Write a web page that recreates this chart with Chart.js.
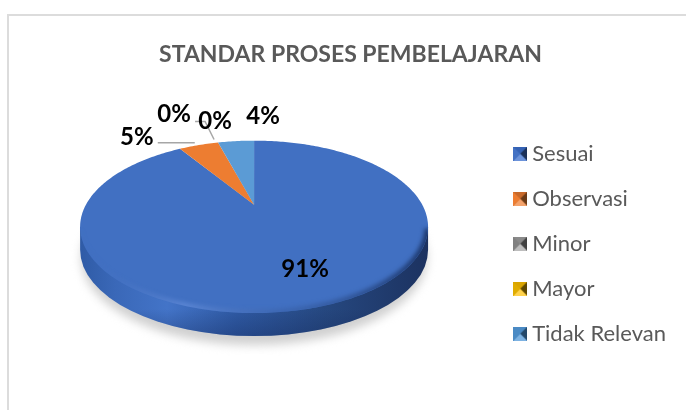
<!DOCTYPE html>
<html>
<head>
<meta charset="utf-8">
<script src="https://cdn.jsdelivr.net/npm/chart.js@4"></script>
<style>
html,body{margin:0;padding:0;background:#fff;overflow:hidden}
#wrap{position:relative;width:686px;height:410px}
#frame{position:absolute;left:7px;top:14px;right:0;bottom:0;border-left:2px solid #dcdcdc;border-top:2px solid #dcdcdc}
canvas{position:absolute;left:0;top:0}
</style>
</head>
<body>
<div id="wrap"><div id="frame"></div><canvas id="c" width="686" height="410"></canvas></div>
<script>
const titleText = "STANDAR PROSES PEMBELAJARAN";
const categories = ["Sesuai", "Observasi", "Minor", "Mayor", "Tidak Relevan"];
const seriesValues = [91, 4.7, 0, 0, 4.3];
const sliceColors = ["#4170C2", "#ED7D31", "#A5A5A5", "#FFC000", "#5B9BD5"];
const markerShades = [
  ["#3562B4", "#1B3058", "#6C93DA", "#4472C4"],
  ["#C8692A", "#6B3A16", "#F4A36C", "#ED7D31"],
  ["#8A8A8A", "#404040", "#BDBDBD", "#808080"],
  ["#D9A400", "#5E4700", "#FFD24D", "#E0AC00"],
  ["#4A8AC4", "#24486A", "#7DB2E2", "#4A8AC4"]
];
// label centre and leader bends, relative to the rim point of each slice
const labelOffsets = [null, [-62, -8], [-44, -28], [-3, -21], [27, -25]];
const leaderBends = [null, [[-4, -2.4], [-41, -2.4]], [[-4, -3], [-13, -21], [-23, -21]], null, null];

const persp = -0.2558, surfaceLift = 39, flatB = 28.2, depth = 23, radiusScale = 1.012, centerShift = -6.5;

function makeMarker(s) {
  const c = document.createElement("canvas"); c.width = 14; c.height = 14;
  const x = c.getContext("2d");
  const tri = (col, pts) => { x.fillStyle = col; x.beginPath(); pts.forEach((p, i) => i ? x.lineTo(p[0], p[1]) : x.moveTo(p[0], p[1])); x.closePath(); x.fill(); };
  x.fillStyle = s[0]; x.fillRect(0, 0, 14, 14);
  tri(s[0], [[0,0],[14,0],[7,7]]);
  tri(s[1], [[14,0],[14,14],[7,7]]);
  tri(s[2], [[0,14],[14,14],[7,7]]);
  tri(s[3], [[0,0],[0,14],[7,7]]);
  return c;
}
const markers = markerShades.map(makeMarker);

function geometry(chart) {
  const el = chart.getDatasetMeta(0).data[0];
  const a = el.outerRadius * radiusScale, y0 = el.y - surfaceLift, cx = el.x + centerShift;
  const pt = ang => { const u = Math.cos(ang), v = Math.sin(ang), w = 1 + persp * v;
    return [cx + a * u / w, (y0 + flatB * v) / w]; };
  const top = pt(-Math.PI / 2)[1], bot = pt(Math.PI / 2)[1];
  return { cx, y0, pt, yc: (top + bot) / 2, ry: (bot - top) / 2, rx: a / Math.sqrt(1 - persp * persp) };
}

const pie3d = {
  id: "pie3d",
  beforeDatasetDraw(chart) {
    const ctx = chart.ctx, g = geometry(chart), meta = chart.getDatasetMeta(0);
    const { cx, yc, rx, ry } = g;
    // ground shadow
    ctx.save();
    ctx.filter = "blur(5px)";
    ctx.fillStyle = "#d0d0d0";
    ctx.beginPath(); ctx.ellipse(cx, yc + depth + 8, rx - 1, ry + 1, 0, 0, 2 * Math.PI); ctx.fill();
    ctx.restore();
    // side wall
    const wall = ctx.createLinearGradient(cx - rx, 0, cx + rx, 0);
    wall.addColorStop(0, "#2F5BA6");
    wall.addColorStop(0.1, "#3A68B8");
    wall.addColorStop(0.25, "#4374C8");
    wall.addColorStop(0.45, "#2F5AA4");
    wall.addColorStop(0.7, "#264880");
    wall.addColorStop(1, "#1C3260");
    ctx.save();
    ctx.fillStyle = wall;
    ctx.beginPath();
    ctx.ellipse(cx, yc + depth, rx, ry, 0, 0, Math.PI);
    ctx.lineTo(cx - rx, yc);
    ctx.lineTo(cx + rx, yc);
    ctx.closePath();
    ctx.fill();
    // dark underside toward the bottom edge
    const under = ctx.createLinearGradient(0, yc + ry - 4, 0, yc + ry + depth);
    under.addColorStop(0, "rgba(20,40,90,0)");
    under.addColorStop(1, "rgba(20,40,90,0.35)");
    ctx.fillStyle = under; ctx.fill();
    ctx.restore();
    // top face slices
    meta.data.forEach((arc, i) => {
      if (arc.endAngle - arc.startAngle < 1e-4) return;
      ctx.beginPath();
      ctx.moveTo(cx, g.y0);
      const n = Math.ceil((arc.endAngle - arc.startAngle) * 60);
      for (let s = 0; s <= n; s++) {
        const p = g.pt(arc.startAngle + (arc.endAngle - arc.startAngle) * s / n);
        ctx.lineTo(p[0], p[1]);
      }
      ctx.closePath();
      ctx.fillStyle = sliceColors[i];
      ctx.fill();
    });
    // soft bevel around the rim
    ctx.save();
    ctx.beginPath(); ctx.ellipse(cx, yc, rx, ry, 0, 0, 2 * Math.PI); ctx.clip();
    ctx.filter = "blur(2px)";
    const rim = ctx.createLinearGradient(cx - rx, 0, cx + rx, 0);
    rim.addColorStop(0, "rgba(60,100,180,0)");
    rim.addColorStop(0.3, "rgba(110,150,225,0.55)");
    rim.addColorStop(0.6, "rgba(50,85,150,0.4)");
    rim.addColorStop(1, "rgba(25,50,100,0.9)");
    ctx.strokeStyle = rim; ctx.lineWidth = 7;
    ctx.beginPath(); ctx.ellipse(cx, yc, rx, ry, 0, 0.02, Math.PI - 0.02); ctx.stroke();
    ctx.restore();
    return false;
  },
  afterDatasetsDraw(chart) {
    const ctx = chart.ctx, g = geometry(chart), meta = chart.getDatasetMeta(0);
    const total = seriesValues.reduce((s, v) => s + v, 0);
    ctx.save();
    meta.data.forEach((arc, i) => {
      const mid = (arc.startAngle + arc.endAngle) / 2;
      const rim = g.pt(mid);
      const bends = leaderBends[i];
      if (bends) {
        ctx.strokeStyle = "#A6A6A6"; ctx.lineWidth = 1.5;
        ctx.beginPath();
        bends.forEach((b, j) => { const x = rim[0] + b[0], y = rim[1] + b[1]; j ? ctx.lineTo(x, y) : ctx.moveTo(x, y); });
        ctx.stroke();
      }
    });
    ctx.fillStyle = "#000";
    ctx.font = "bold 24px Lato";
    ctx.textAlign = "center"; ctx.textBaseline = "middle";
    meta.data.forEach((arc, i) => {
      const mid = (arc.startAngle + arc.endAngle) / 2;
      const off = labelOffsets[i];
      let x, y;
      if (off) { const rim = g.pt(mid); x = rim[0] + off[0]; y = rim[1] + off[1]; }
      else { x = g.cx + 51; y = g.y0 + 64; }
      ctx.fillText(Math.round(seriesValues[i] / total * 100) + "%", x, y);
    });
    ctx.restore();
  }
};

new Chart(document.getElementById("c"), {
  type: "pie",
  plugins: [pie3d],
  data: { labels: categories, datasets: [{ data: seriesValues, backgroundColor: sliceColors, borderWidth: 0 }] },
  options: {
    responsive: false,
    animation: false,
    layout: { padding: { left: 25, right: 10 } },
    plugins: {
      tooltip: { enabled: false },
      title: {
        display: true, text: titleText, color: "#595959",
        font: { family: "Lato", size: 23, weight: "bold" },
        padding: { top: 41, bottom: 9 }
      },
      legend: {
        position: "right", fullSize: false,
        labels: {
          color: "#595959", font: { family: "Lato", size: 22 },
          padding: 23, boxWidth: 14, boxHeight: 14, usePointStyle: true, pointStyleWidth: 2,
          generateLabels(chart) {
            const items = Chart.overrides.pie.plugins.legend.labels.generateLabels(chart);
            items.forEach((it, i) => { it.pointStyle = markers[i]; it.hidden = false; });
            return items;
          }
        }
      }
    }
  }
});
</script>
</body>
</html>
